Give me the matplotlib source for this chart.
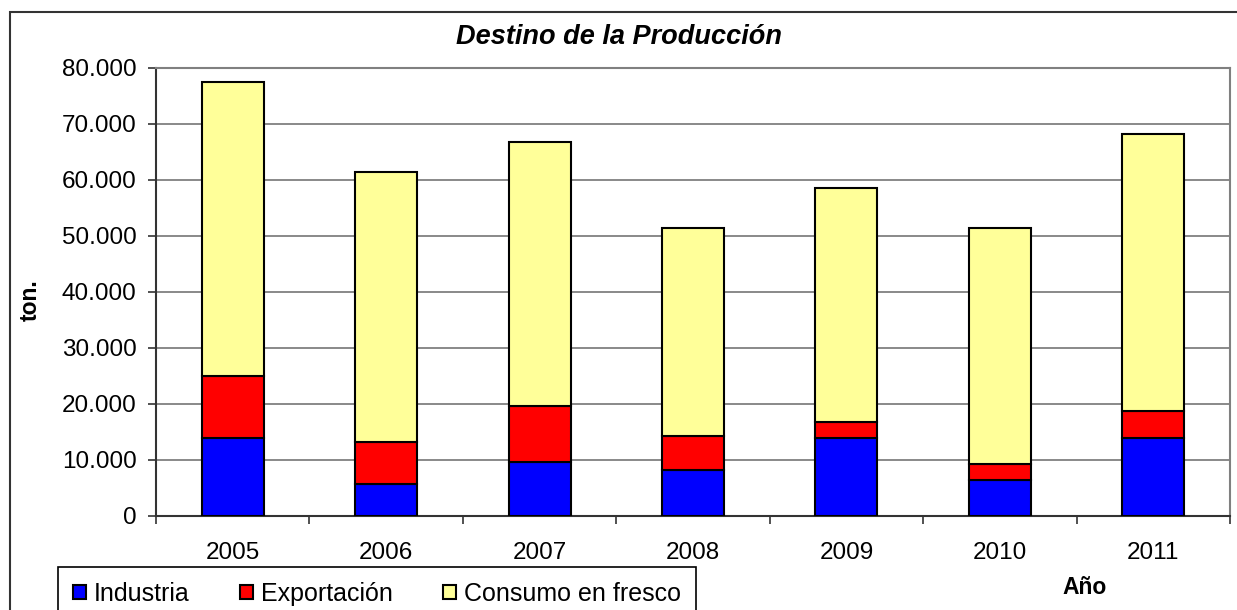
import numpy as np
import matplotlib
matplotlib.use("Agg")
import matplotlib.pyplot as plt
from matplotlib.ticker import FuncFormatter, FixedLocator
from matplotlib.patches import Rectangle

plt.rcParams['font.family'] = ['Liberation Sans', 'DejaVu Sans']

years = ['2005', '2006', '2007', '2008', '2009', '2010', '2011']
industria = [13900, 5700, 9600, 8200, 13900, 6500, 13900]
exportacion = [11150, 7600, 10100, 6100, 2900, 2800, 4800]
consumo = [52500, 48100, 47100, 37200, 41800, 42200, 49600]

fig = plt.figure(figsize=(12.37, 6.10), dpi=100)
ax = fig.add_axes([156/1237, 1 - 516/610, (1230 - 156)/1237, (516 - 68)/610])

x = np.arange(len(years))
w = 0.405
ind = np.array(industria)
exp_ = np.array(exportacion)
ax.bar(x, ind, w, color='#0000FF', edgecolor='black', linewidth=1.5, label='Industria', zorder=3)
ax.bar(x, exp_, w, bottom=ind, color='#FF0000', edgecolor='black', linewidth=1.5, label='Exportación', zorder=3)
ax.bar(x, consumo, w, bottom=ind + exp_, color='#FFFF99', edgecolor='black', linewidth=1.5, label='Consumo en fresco', zorder=3)

ax.set_xlim(-0.5, len(years) - 0.5)
ax.set_ylim(0, 80000)
ax.set_yticks(np.arange(0, 80001, 10000))
ax.yaxis.set_major_formatter(FuncFormatter(lambda v, p: '{:,.0f}'.format(v).replace(',', '.')))
ax.yaxis.grid(True, color='#808080', linewidth=1.3, zorder=0)

ax.set_xticks(x)
ax.set_xticklabels(years)
ax.xaxis.set_minor_locator(FixedLocator(np.arange(-0.5, len(years), 1.0)))
ax.tick_params(axis='x', which='major', length=0, pad=19, labelsize=17.5)
ax.tick_params(axis='x', which='minor', length=6, width=1.2, direction='out', color='#333333')
ax.tick_params(axis='y', length=6, width=1.2, direction='out', color='#333333', pad=8, labelsize=17.5)

for s in ['left', 'bottom']:
    ax.spines[s].set_color('#333333')
    ax.spines[s].set_linewidth(1.5)
for s in ['top', 'right']:
    ax.spines[s].set_color('#808080')
    ax.spines[s].set_linewidth(1.5)

fig.text(30/1237, 1 - 300/610, 'ton.', rotation=90, ha='center', va='center',
         fontsize=16.5, fontweight='bold')
fig.text(0.5, 1 - 37/610, 'Destino de la Producción', ha='center', va='center',
         fontsize=19.5, fontweight='bold', fontstyle='italic')
fig.text(1085/1237, 1 - 587/610, 'Año', ha='center', va='center', fontsize=16.5, fontweight='bold')

leg = fig.legend(loc='upper left', bbox_to_anchor=(58/1237, 1 - 567/610), ncol=3, fontsize=18,
                 handlelength=0.5, handleheight=0.5, handletextpad=0.35, columnspacing=2.0,
                 fancybox=False, edgecolor='black', framealpha=1, borderpad=0.6, borderaxespad=0)
leg.get_frame().set_linewidth(1.2)

fig.patches.append(Rectangle((10/1237, -0.1), 1.2, 1 - 12/610 + 0.1, transform=fig.transFigure,
                             fill=False, edgecolor='#333333', linewidth=1.5))

fig.savefig('out.png', dpi=100)
